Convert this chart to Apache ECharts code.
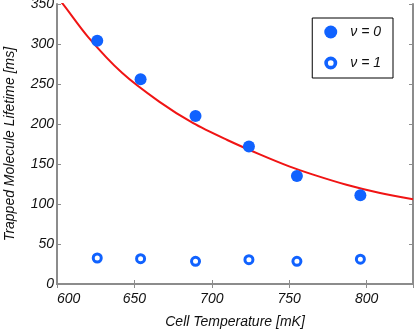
<!DOCTYPE html>
<html>
<head>
<meta charset="utf-8">
<script src="https://cdn.jsdelivr.net/npm/echarts@6/dist/echarts.min.js"></script>
<style>html,body{margin:0;padding:0;background:#fff;}#c{width:415px;height:331px;}</style>
</head>
<body>
<div id="c"></div>
<script>
// Data
const tempV0 = [626, 654, 689.5, 724, 755, 796];
const lifeV0 = [304, 256, 210, 172, 135, 111];
const tempV1 = [626, 654, 689.5, 724, 755, 796];
const lifeV1 = [32.5, 31.7, 28.3, 30.4, 28.3, 31];
const fitT = [598, 603, 620, 642, 666, 688, 710, 731, 750, 765, 787, 808, 830];
const fitL = [362, 352, 309, 264, 228, 201, 180, 162, 147, 137, 124, 114, 106];
const xTicks = {min: 600, max: 830, interval: 50};
const yTicks = {min: 0, max: 350, interval: 50};
const labelV0 = 'ν = 0';
const labelV1 = 'ν = 1';
const xName = 'Cell Temperature [mK]';
const yName = 'Trapped Molecule Lifetime [ms]';

const pair = (a, b) => a.map((v, i) => [v, b[i]]);
const blue = '#1062ff';
const grey = '#8c8c8c';
const font = 'Liberation Sans';
const ringIcon = 'path://M0,-5A5,5 0 1,1 0,5A5,5 0 1,1 0,-5ZM0,-2.2A2.2,2.2 0 1,0 0,2.2A2.2,2.2 0 1,0 0,-2.2Z';

const chart = echarts.init(document.getElementById('c'), null, {renderer: 'canvas'});
const axisCommon = {
  axisLine: {show: true, lineStyle: {color: grey, width: 2}},
  axisTick: {show: true, inside: true, length: 4, lineStyle: {color: grey, width: 1}},
  splitLine: {show: false}
};
chart.setOption({
  animation: false,
  grid: {left: 57, right: 2, top: 4, bottom: 47, containLabel: false, outerBoundsMode: 'none'},
  xAxis: [
    Object.assign({}, axisCommon, {
      type: 'value', min: xTicks.min, max: xTicks.max, interval: xTicks.interval,
      name: xName, nameLocation: 'middle', nameGap: 31,
      nameTextStyle: {fontFamily: font, fontStyle: 'italic', fontSize: 14, color: '#111'},
      axisLabel: {fontFamily: font, fontStyle: 'italic', fontSize: 14, color: '#111', margin: 8,
        showMaxLabel: false, alignMinLabel: 'left'}
    }),
    Object.assign({}, axisCommon, {
      type: 'value', position: 'top', min: xTicks.min, max: xTicks.max, interval: xTicks.interval,
      axisLabel: {show: false}
    })
  ],
  yAxis: [
    Object.assign({}, axisCommon, {
      type: 'value', min: yTicks.min, max: yTicks.max, interval: yTicks.interval,
      name: yName, nameLocation: 'middle', nameGap: 40,
      nameTextStyle: {fontFamily: font, fontStyle: 'italic', fontSize: 14, color: '#111'},
      axisLabel: {fontFamily: font, fontStyle: 'italic', fontSize: 14, color: '#111', margin: 3}
    }),
    Object.assign({}, axisCommon, {
      type: 'value', position: 'right', min: yTicks.min, max: yTicks.max, interval: yTicks.interval,
      axisLabel: {show: false}
    })
  ],
  legend: {
    orient: 'vertical', right: 22, top: 18,
    padding: [7, 12, 8, 12], itemGap: 17, itemWidth: 13, itemHeight: 13,
    borderColor: '#000', borderWidth: 1, backgroundColor: '#fff',
    textStyle: {fontFamily: font, fontStyle: 'italic', fontSize: 14, color: '#111', padding: [0, 0, 0, 8]},
    data: [
      {name: labelV0, icon: 'circle'},
      {name: labelV1, icon: ringIcon, itemStyle: {color: blue, borderWidth: 0}}
    ]
  },
  series: [
    {
      name: 'fit', type: 'line', data: pair(fitT, fitL), smooth: 0.3, symbol: 'none', clip: true,
      lineStyle: {color: '#f01414', width: 2}, z: 1
    },
    {
      name: labelV0, type: 'scatter', data: pair(tempV0, lifeV0), symbol: 'circle', symbolSize: 12,
      itemStyle: {color: blue, opacity: 1}, z: 3
    },
    {
      name: labelV1, type: 'scatter', data: pair(tempV1, lifeV1), symbol: 'circle', symbolSize: 8,
      itemStyle: {color: '#fff', borderColor: blue, borderWidth: 3, opacity: 1}, z: 3
    }
  ]
});
</script>
</body>
</html>
